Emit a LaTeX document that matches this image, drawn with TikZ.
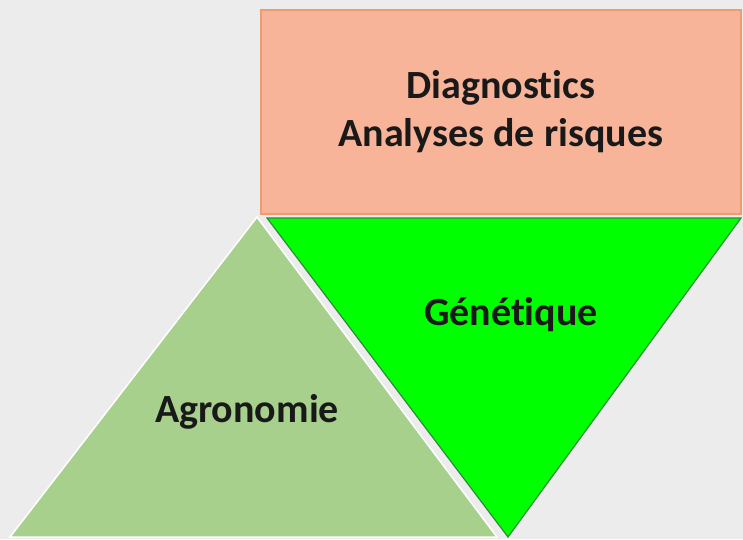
\documentclass[tikz,border=0pt]{standalone}
\usepackage{fontspec}
\setmainfont{Carlito}[Ligatures=NoCommon]
\definecolor{bgcol}{HTML}{ECECEC}
\definecolor{salmon}{HTML}{F8B498}
\definecolor{salmonedge}{HTML}{F09A70}
\definecolor{brightgreen}{HTML}{00FF00}
\definecolor{greenedge}{HTML}{2E8B3A}
\definecolor{palegreen}{HTML}{A8D08D}
\begin{document}
\begin{tikzpicture}[
    x=1pt, y=-1pt,
    diagbox/.style={rectangle, draw=salmonedge, fill=salmon, line width=1.5pt, align=center, anchor=north west, inner sep=0pt},
    label/.style={font=\fontsize{40}{48}\selectfont\bfseries, text=black!90, align=center}
]
    \useasboundingbox (0,0) rectangle (743,539);
    \fill[bgcol] (0,0) rectangle (743,539);

    % Top block
    \node[diagbox, minimum width=480pt, minimum height=204pt, label] (diag) at (260,9) {Diagnostics\\Analyses de risques};

    % Triangles
    \coordinate (agtop) at (257,217);
    \coordinate (agleft) at (10,537);
    \coordinate (agright) at (497,537);
    \coordinate (genleft) at (267,218);
    \coordinate (genright) at (741,218);
    \coordinate (genbottom) at (508,537);
    \draw[fill=palegreen, draw=white, line width=1.5pt] (agtop) -- (agright) -- (agleft) -- cycle;
    \draw[fill=brightgreen, draw=greenedge, line width=1.2pt] (genleft) -- (genright) -- (genbottom) -- cycle;

    % Labels
    \node[label] (gen) at (511,315) {Génétique};
    \node[label] (agro) at (247,412) {Agronomie};
\end{tikzpicture}
\end{document}
